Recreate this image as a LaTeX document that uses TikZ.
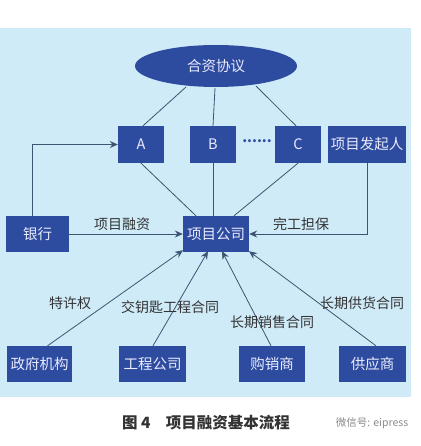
\documentclass[tikz,border=0pt]{standalone}
\usepackage{fontspec}
\newfontfamily\cjk{Noto Sans CJK SC}
\usetikzlibrary{arrows.meta,shapes.geometric}
\definecolor{bgblue}{HTML}{CFEBF8}
\definecolor{boxblue}{HTML}{2D4C9F}
\definecolor{linec}{HTML}{3D5573}
\definecolor{labc}{HTML}{333333}
\tikzset{
  box/.style={draw=none, fill=boxblue, text=white!92!blue, font=\cjk\fontsize{14.5}{16}\selectfont, inner sep=0pt},
  conn/.style={draw=linec, line width=0.8pt},
  arr/.style={conn, -{Stealth[length=8pt,width=7pt]}},
  lab/.style={text=labc, font=\cjk\fontsize{14}{16}\selectfont}
}
\begin{document}
\begin{tikzpicture}[x=1pt,y=-1pt]
\useasboundingbox (0,0) rectangle (420,446);
\fill[white] (0,0) rectangle (420,446);
\fill[bgblue] (0,28) rectangle (411,397);
% ellipse
\node[box, ellipse, minimum width=162pt, minimum height=42pt] (hz) at (216,66) {合资协议};
% second row
\node[box, minimum width=46pt, minimum height=37pt] (A) at (141,144.5) {A};
\node[box, minimum width=46pt, minimum height=37pt] (B) at (213,144.5) {B};
\node[box, minimum width=46pt, minimum height=37pt] (C) at (298,144.5) {C};
\node[box, minimum width=78pt, minimum height=37pt] (fq) at (367,144.5) {项目发起人};
\node[text=boxblue, font=\cjk\bfseries\fontsize{14}{16}\selectfont] (dots) at (257,141) {......};
% middle row
\node[box, minimum width=63pt, minimum height=36pt] (bank) at (37.5,234) {银行};
\node[box, minimum width=66pt, minimum height=36pt] (xm) at (216,234) {项目公司};
% bottom row
\node[box, minimum width=65pt, minimum height=36pt] (zf) at (39.5,364) {政府机构};
\node[box, minimum width=67pt, minimum height=36pt] (gc) at (152.5,364) {工程公司};
\node[box, minimum width=66pt, minimum height=36pt] (gx) at (272,364) {购销商};
\node[box, minimum width=67pt, minimum height=36pt] (gy) at (372.5,364) {供应商};
% connectors ellipse - ABC
\coordinate (eA) at (186,87);
\coordinate (eB) at (215,88);
\coordinate (eC) at (256,86);
\draw[conn] (eA) -- ([xshift=2pt]A.north);
\draw[conn] (eB) -- (B.north);
\draw[conn] (eC) -- ([xshift=-2pt]C.north);
% ABC - project company
\draw[conn] (A.south) -- ([xshift=-20pt]xm.north);
\draw[conn] (B.south) -- ([xshift=-3pt]xm.north);
\draw[conn] (C.south) -- ([xshift=18pt]xm.north);
% bank
\draw[arr] (bank.east) -- node[lab, above=0pt, xshift=-4pt] {项目融资} (xm.west);
\draw[arr] ([xshift=-5.5pt]bank.north) |- (A.west);
% sponsor
\draw[arr] (fq.south) |- (xm.east) node[lab, pos=0.78, above=0pt] {完工担保};
% bottom arrows
\draw[arr] ([xshift=8pt]zf.north) -- ([xshift=-33pt,yshift=2pt]xm.south) ;
\draw[arr] ([xshift=0.5pt]gc.north) -- ([xshift=-8pt,yshift=1pt]xm.south);
\draw[arr] ([xshift=-1pt]gx.north) -- ([xshift=6pt,yshift=1pt]xm.south);
\draw[arr] ([xshift=3.5pt]gy.north) -- ([xshift=33pt,yshift=1pt]xm.south);
% labels
\node[lab] (l1) at (70,303) {特许权};
\node[lab] (l2) at (170,307) {交钥匙工程合同};
\node[lab] (l3) at (272,322) {长期销售合同};
\node[lab] (l4) at (362,303) {长期供货合同};
% caption
\node[font=\cjk\bfseries\fontsize{15.5}{18}\selectfont, text=black!80] (cap) at (206,423) {图 4\quad 项目融资基本流程};
\node[font=\cjk\fontsize{10.5}{12}\selectfont, text=black!45] (wm) at (372,423) {微信号: eipress};
\end{tikzpicture}
\end{document}
